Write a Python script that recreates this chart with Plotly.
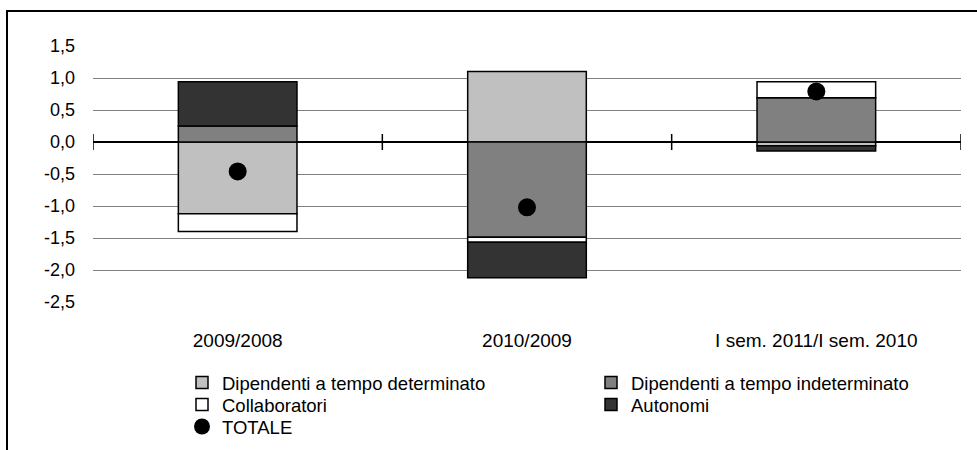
import plotly.graph_objects as go

# Variazioni dell'occupazione per tipologia (punti percentuali)
categories = ["2009/2008", "2010/2009", "I sem. 2011/I sem. 2010"]
dip_determinato = [-1.12, 1.10, -0.06]
dip_indeterminato = [0.25, -1.49, 0.69]
collaboratori = [-0.28, -0.075, 0.25]
autonomi = [0.69, -0.555, -0.08]
totale = [-0.46, -1.02, 0.79]

y_ticks = [1.5, 1.0, 0.5, 0.0, -0.5, -1.0, -1.5, -2.0, -2.5]
y_tick_labels = ["1,5", "1,0", "0,5", "0,0", "-0,5", "-1,0", "-1,5", "-2,0", "-2,5"]

FONT = "Liberation Sans, Arial, sans-serif"

W, H = 977, 450
ML, MR, MT, MB = 93, 16, 46, 148
PW, PH = W - ML - MR, H - MT - MB


def px_x(px):
    return (px - ML) / PW


def px_y(py):
    return (H - MB - py) / PH


fig = go.Figure()

# (name, values, fill colour, legend id, legend anchor in px: symbol centre x, row centre y)
series = [
    ("Dipendenti a tempo determinato", dip_determinato, "#C0C0C0", "legend", 201, 383),
    ("Dipendenti a tempo indeterminato", dip_indeterminato, "#808080", "legend2", 610, 383),
    ("Collaboratori", collaboratori, "#FFFFFF", "legend3", 201, 405),
    ("Autonomi", autonomi, "#333333", "legend4", 610, 405),
]
for name, vals, color, leg, _, _ in series:
    fig.add_trace(go.Bar(
        x=categories, y=vals, name=name,
        marker=dict(color=color, line=dict(color="black", width=1.5)),
        legend=leg,
    ))

fig.add_trace(go.Scatter(
    x=categories, y=totale, name="TOTALE", mode="markers",
    marker=dict(color="black", size=18, symbol="circle"),
    legend="legend5",
))

# Separator ticks on the zero line between categories
shapes = []
for i in range(len(categories) + 1):
    shapes.append(dict(
        type="line", xref="x", yref="y",
        x0=i - 0.5, x1=i - 0.5, y0=-0.125, y1=0.125,
        line=dict(color="black", width=1.5),
    ))

# Chart frame
shapes.append(dict(
    type="rect", xref="paper", yref="paper",
    x0=px_x(7), x1=px_x(990), y0=px_y(470), y1=px_y(11),
    line=dict(color="black", width=2), fillcolor="rgba(0,0,0,0)",
    layer="below",
))


def legend_at(cx, cy):
    # symbol sits about 20px right of the legend's left edge (plus padding)
    return dict(
        orientation="v", xanchor="left", yanchor="middle",
        x=px_x(cx - 19), y=px_y(cy),
        font=dict(family=FONT, size=18.5, color="black"),
        bgcolor="rgba(0,0,0,0)", borderwidth=0,
        itemclick=False, itemdoubleclick=False,
    )


legends = {leg: legend_at(cx, cy) for _, _, _, leg, cx, cy in series}
legends["legend5"] = legend_at(201, 427)

fig.update_layout(
    width=W, height=H,
    margin=dict(l=ML, r=MR, t=MT, b=MB, autoexpand=False),
    paper_bgcolor="white", plot_bgcolor="white",
    barmode="relative", bargap=0.59,
    font=dict(family=FONT, size=18, color="black"),
    shapes=shapes,
    showlegend=True,
    **legends,
    xaxis=dict(
        type="category", range=[-0.5, len(categories) - 0.5],
        showgrid=False, showline=False, zeroline=False, ticks="",
        tickfont=dict(family=FONT, size=19, color="black"),
        ticklabelstandoff=25,
    ),
    yaxis=dict(
        range=[-2.5, 1.5],
        tickvals=y_ticks, ticktext=y_tick_labels,
        showgrid=True, gridcolor="#808080", gridwidth=1,
        zeroline=True, zerolinecolor="black", zerolinewidth=1.8,
        showline=False, ticks="",
        tickfont=dict(family=FONT, size=18, color="black"),
        ticklabelstandoff=17,
    ),
)

fig.write_html("out.html")
